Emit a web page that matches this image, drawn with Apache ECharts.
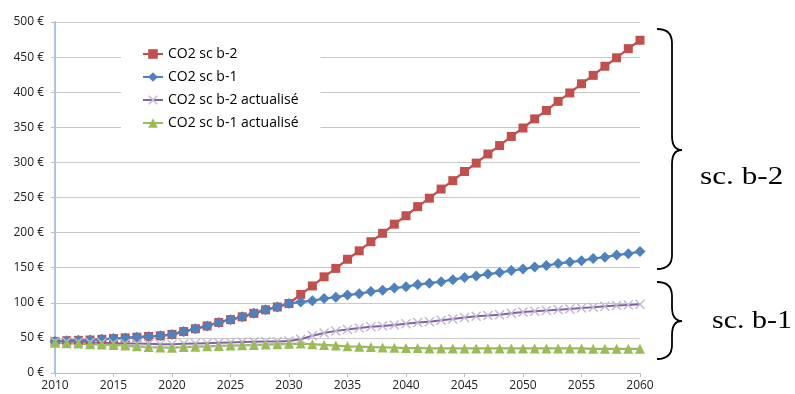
<!DOCTYPE html>
<html><head><meta charset="utf-8">
<script src="https://cdn.jsdelivr.net/npm/echarts@6/dist/echarts.min.js"></script>
<style>html,body{margin:0;padding:0;background:#fff}#c{width:795px;height:394px}</style>
</head><body><div id="c"></div>
<script>
var years = ['2010','2011','2012','2013','2014','2015','2016','2017','2018','2019',
  '2020','2021','2022','2023','2024','2025','2026','2027','2028','2029',
  '2030','2031','2032','2033','2034','2035','2036','2037','2038','2039',
  '2040','2041','2042','2043','2044','2045','2046','2047','2048','2049',
  '2050','2051','2052','2053','2054','2055','2056','2057','2058','2059','2060'];

var seriesNames = ['CO2 sc b-2', 'CO2 sc b-1', 'CO2 sc b-2 actualisé', 'CO2 sc b-1 actualisé'];

var co2B2 = [45,46,46.5,47,48,49,50,51,52,53,
  55,59,63,67,72,76,80,85,90,94,
  99,112,124,137,149,162,174,187,199,212,
  224,237,249,262,274,287,299,312,324,337,
  349,362,374,387,399,412,424,437,449,462,474];

var co2B1 = [45,46,46.5,47,48,49,50,51,52,53,
  55,59,63,67,72,76,80,85,90,94,
  99,101,103,106,108,111,113,116,118,121,
  123,126,128,130,133,136,138,141,143,146,
  148,151,153,156,158,160,163,165,168,170,173];

var co2B2Act = [45,44.5,44,43.5,43,42.5,42,42,41.5,41,
  41,41.5,42,42.5,43,43.5,44,44.5,45,45,
  45.5,48,53,57,60,62,64,66,67,68.5,
  70,72,73,75,77,79,81,82,83,85,
  87,88,89,90,91,92.5,93.5,95,96,97,98];

var co2B1Act = [43,42.5,42,41,40.5,40,39,38,37,36.5,
  36,37,37.5,38,38.5,39,39.5,40,40.5,41,
  41.5,42,41,40,39,38,37.5,37,36.5,36,
  35.5,35.5,35,35,35,35,35,35,35,35,
  35,35,35,35,35,35,34.5,34.5,34.5,34.5,34.5];

var yTicks = {min: 0, max: 500, step: 50};

var crossPath = 'path://M0,1 L1,0 L5,4 L9,0 L10,1 L6,5 L10,9 L9,10 L5,6 L1,10 L0,9 L4,5 Z';
var font = 'Open Sans';

function brace(xTip, xMid, xPoint, yTop, yMid, yBot) {
  var st = {fill: 'none', stroke: '#000', lineWidth: 1.8};
  var r = 14;
  return [
    {type: 'bezierCurve', shape: {x1: xTip, y1: yTop, cpx1: xMid, cpy1: yTop, x2: xMid, y2: yTop + r}, style: st},
    {type: 'line', shape: {x1: xMid, y1: yTop + r, x2: xMid, y2: yMid - r}, style: st},
    {type: 'bezierCurve', shape: {x1: xMid, y1: yMid - r, cpx1: xMid, cpy1: yMid, x2: xPoint, y2: yMid}, style: st},
    {type: 'bezierCurve', shape: {x1: xPoint, y1: yMid, cpx1: xMid, cpy1: yMid, x2: xMid, y2: yMid + r}, style: st},
    {type: 'line', shape: {x1: xMid, y1: yMid + r, x2: xMid, y2: yBot - r}, style: st},
    {type: 'bezierCurve', shape: {x1: xMid, y1: yBot - r, cpx1: xMid, cpy1: yBot, x2: xTip, y2: yBot}, style: st}
  ];
}

var graphics = [].concat(
  brace(657, 672, 682, 29, 150, 269),
  brace(657, 672, 682, 282, 321, 359),
  [
    {type: 'text', x: 700, y: 165, scaleX: 1.25,
     style: {text: 'sc. b-2', font: '25px "Liberation Serif"', fill: '#000'}},
    {type: 'text', x: 712, y: 309, scaleX: 1.2,
     style: {text: 'sc. b-1', font: '25px "Liberation Serif"', fill: '#000'}}
  ]
);

var chart = echarts.init(document.getElementById('c'), null, {renderer: 'canvas'});
chart.setOption({
  animation: false,
  backgroundColor: '#fff',
  grid: {left: 55, right: 155, top: 22, bottom: 21, containLabel: false},
  legend: {
    orient: 'vertical',
    left: 121, top: 37,
    padding: [10, 22, 11, 21],
    itemGap: 9,
    itemWidth: 20, itemHeight: 12,
    backgroundColor: '#fff',
    textStyle: {fontFamily: font, fontSize: 14, lineHeight: 14, color: '#000'},
    data: seriesNames
  },
  xAxis: {
    type: 'category', boundaryGap: false, data: years,
    axisLine: {lineStyle: {color: '#bfbfbf', width: 1}},
    axisTick: {interval: 4, length: 4, lineStyle: {color: '#bfbfbf'}},
    axisLabel: {interval: 4, margin: 7, fontFamily: font, fontSize: 12, color: '#222'},
    splitLine: {show: false}
  },
  yAxis: {
    type: 'value', min: yTicks.min, max: yTicks.max, interval: yTicks.step,
    axisLine: {show: true, lineStyle: {color: '#a9c6e6', width: 2}},
    axisTick: {show: true, length: 4, lineStyle: {color: '#bfbfbf'}},
    axisLabel: {formatter: '{value} €', margin: 11, fontFamily: font, fontSize: 12, color: '#222'},
    splitLine: {lineStyle: {color: '#c8c8c8', width: 1}}
  },
  series: [
    {name: seriesNames[0], type: 'line', data: co2B2, symbol: 'rect', symbolSize: 9, showAllSymbol: true,
     itemStyle: {color: '#c0504d'}, lineStyle: {color: '#c0504d', width: 2.25}},
    {name: seriesNames[1], type: 'line', data: co2B1, symbol: 'diamond', symbolSize: 11, showAllSymbol: true,
     itemStyle: {color: '#4f81bd'}, lineStyle: {color: '#4f81bd', width: 2.25}},
    {name: seriesNames[2], type: 'line', data: co2B2Act, symbol: crossPath, symbolSize: 10, showAllSymbol: true,
     itemStyle: {color: '#c3b5d6'}, lineStyle: {color: '#8064a2', width: 2}},
    {name: seriesNames[3], type: 'line', data: co2B1Act, symbol: 'triangle', symbolSize: 10, showAllSymbol: true,
     itemStyle: {color: '#9bbb59'}, lineStyle: {color: '#9bbb59', width: 2.25}}
  ],
  graphic: graphics
});
</script></body></html>
